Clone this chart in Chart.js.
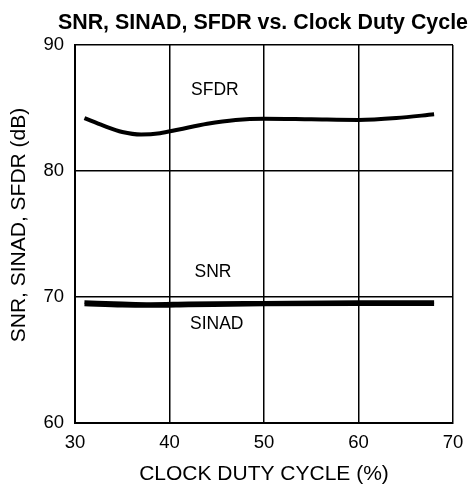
<!DOCTYPE html>
<html lang="en">
<head>
<title>SNR, SINAD, SFDR vs. Clock Duty Cycle</title>
<script src="https://cdn.jsdelivr.net/npm/chart.js@4.4.1/dist/chart.umd.min.js"></script>
<style>
  body { margin: 0; background: #fff; }
  #wrap { width: 473px; height: 487px; }
</style>
</head>
<body>
<div id="wrap"><canvas id="myChart" width="473" height="487"></canvas></div>
<script>
  // values (duty cycle in %, levels in dB)
  const sfdrDuty = [31, 33, 35, 37, 39, 41, 44, 47, 50, 55, 60, 64, 68];
  const sfdrDb   = [84.2, 83.6, 83.1, 82.9, 83.0, 83.3, 83.75, 84.05, 84.15, 84.1, 84.05, 84.2, 84.5];

  const snrDuty = [31, 35, 38, 42, 50, 60, 68];
  const snrDb   = [69.6, 69.5, 69.45, 69.5, 69.55, 69.6, 69.6];

  const sinadDuty = [31, 35, 38, 42, 50, 60, 68];
  const sinadDb   = [69.4, 69.3, 69.28, 69.32, 69.4, 69.42, 69.42];

  const xTicks = [30, 40, 50, 60, 70];
  const yTicks = [60, 70, 80, 90];

  // in-plot curve names, at data coordinates
  const curveLabels = [
    { text: "SFDR",  x: 44.8, y: 86.4 },
    { text: "SNR",   x: 44.6, y: 71.95 },
    { text: "SINAD", x: 45.0, y: 67.85 }
  ];

  const FONT = "'Liberation Sans', Arial, sans-serif";

  function points(xs, ys) {
    var out = [];
    for (let i = 0; i < xs.length; i++) out.push({ x: xs[i], y: ys[i] });
    return out;
  }

  function lineSet(label, data, width) {
    return {
      label: label,
      data: data,
      borderColor: "#000",
      borderWidth: width,
      pointRadius: 0,
      fill: false,
      cubicInterpolationMode: "monotone",
      borderCapStyle: "butt"
    };
  }

  const labelPlugin = {
    id: "curveLabels",
    afterDatasetsDraw(chart) {
      const ctx = chart.ctx;
      const xs = chart.scales.x, ys = chart.scales.y;
      ctx.save();
      ctx.fillStyle = "#000";
      ctx.font = "17.5px " + FONT;
      ctx.textAlign = "center";
      ctx.textBaseline = "middle";
      curveLabels.forEach(function (l) {
        ctx.fillText(l.text, xs.getPixelForValue(l.x), ys.getPixelForValue(l.y));
      });
      ctx.restore();
    }
  };

  // chart title and y-axis title, placed where the reference has them
  const textPlugin = {
    id: "titles",
    afterDraw(chart) {
      const ctx = chart.ctx;
      ctx.save();
      ctx.fillStyle = "#000";
      ctx.font = "bold 21.4px " + FONT;
      ctx.textAlign = "right";
      ctx.textBaseline = "alphabetic";
      ctx.fillText("SNR, SINAD, SFDR vs. Clock Duty Cycle", 468, 29);

      ctx.translate(19, 225);
      ctx.rotate(-Math.PI / 2);
      ctx.font = "21px " + FONT;
      ctx.textAlign = "center";
      ctx.textBaseline = "middle";
      ctx.fillText("SNR, SINAD, SFDR (dB)", 0, 0);
      ctx.restore();
    }
  };

  new Chart(document.getElementById("myChart"), {
    type: "line",
    data: {
      datasets: [
        lineSet("SFDR", points(sfdrDuty, sfdrDb), 4),
        lineSet("SNR", points(snrDuty, snrDb), 3.5),
        lineSet("SINAD", points(sinadDuty, sinadDb), 3.5)
      ]
    },
    options: {
      responsive: false,
      animation: false,
      layout: { padding: { top: 45, right: 20, left: 0, bottom: 0 } },
      plugins: { legend: { display: false }, tooltip: { enabled: false }, title: { display: false } },
      scales: {
        x: {
          type: "linear",
          min: 30, max: 70,
          afterFit: function (s) { s.height = 64; },
          afterBuildTicks: function (s) { s.ticks = xTicks.map(v => ({ value: v })); },
          grid: { color: "#000", lineWidth: 1.5, drawTicks: false },
          border: { color: "#000", width: 2 },
          ticks: { color: "#000", font: { family: FONT, size: 18.5 }, padding: 9, maxRotation: 0 },
          title: { display: true, text: "CLOCK DUTY CYCLE (%)", color: "#000",
                   font: { family: FONT, size: 21 }, padding: { top: 0, bottom: 0 } }
        },
        y: {
          min: 60, max: 90,
          afterFit: function (s) { s.width = 75; },
          afterBuildTicks: function (s) { s.ticks = yTicks.map(v => ({ value: v })); },
          grid: { color: "#000", lineWidth: 1.5, drawTicks: false },
          border: { color: "#000", width: 2 },
          ticks: { color: "#000", font: { family: FONT, size: 18.5 }, padding: 11 }
        }
      }
    },
    plugins: [labelPlugin, textPlugin]
  });
</script>
</body>
</html>
